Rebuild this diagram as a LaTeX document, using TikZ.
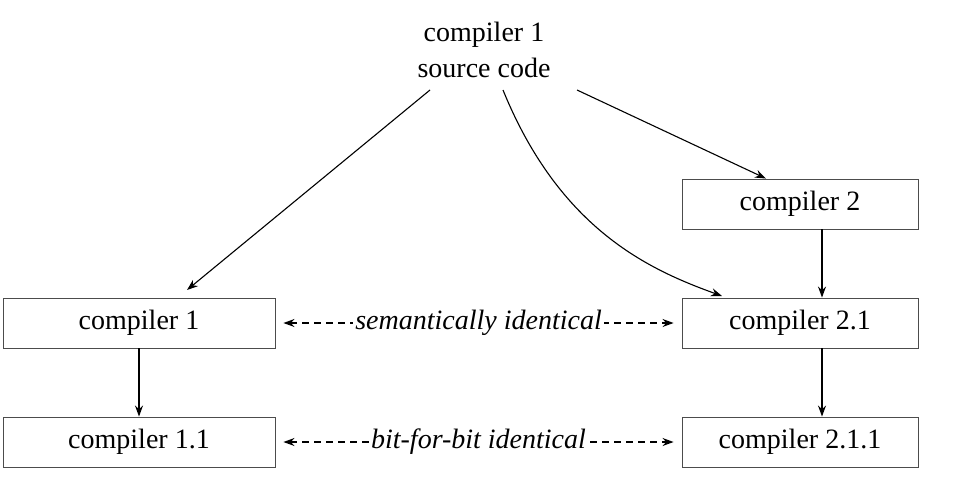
\documentclass[tikz,border=0pt]{standalone}
\usepackage{fontspec}
\setmainfont{Liberation Serif}
\usetikzlibrary{arrows.meta}
\begin{document}
\begin{tikzpicture}[x=1pt,y=-1pt,
  box/.style={draw=black!70,line width=0.9pt,minimum width=#1,minimum height=50pt,inner sep=0pt,font=\fontsize{28}{32}\selectfont},
  box/.default=236pt,
  arr/.style={-{Stealth[length=11pt,width=8pt]},line width=1.1pt},
  dasharr/.style={{Stealth[length=11pt,width=8pt]}-{Stealth[length=11pt,width=8pt]},dash pattern=on 7pt off 5pt,line width=1.1pt},
  lab/.style={fill=white,inner sep=2pt,font=\fontsize{28}{32}\selectfont\itshape}]
\useasboundingbox (0,0) rectangle (964,490);
\node[align=center,font=\fontsize{28}{36}\selectfont] (src) at (484,50) {compiler 1\\source code};
\node[box] (c2) at (800,204) {compiler 2};
\node[box=272pt] (c1) at (139,323) {compiler 1};
\node[box] (c21) at (800,323) {compiler 2.1};
\node[box=272pt] (c11) at (139,442) {compiler 1.1};
\node[box] (c211) at (800,442) {compiler 2.1.1};
\coordinate (a1) at (430,90);
\coordinate (a2) at (503,90);
\coordinate (a3) at (577,90);
\draw[arr] (a1) -- (187,290);
\draw[arr] (a2) .. controls (560,230) and (650,270) .. (722,296);
\draw[arr] (a3) -- (c2.north -| 766,0);
\draw[arr] (c2.south -| 822,0) -- (c21.north -| 822,0);
\draw[arr] (c1) -- (c11);
\draw[arr] (c21.south -| 822,0) -- (c211.north -| 822,0);
\draw[dasharr] ([xshift=8pt]c1.east) -- node[lab]{semantically identical} ([xshift=-8pt]c21.west);
\draw[dasharr] ([xshift=8pt]c11.east) -- node[lab]{bit-for-bit identical} ([xshift=-8pt]c211.west);
\end{tikzpicture}
\end{document}
